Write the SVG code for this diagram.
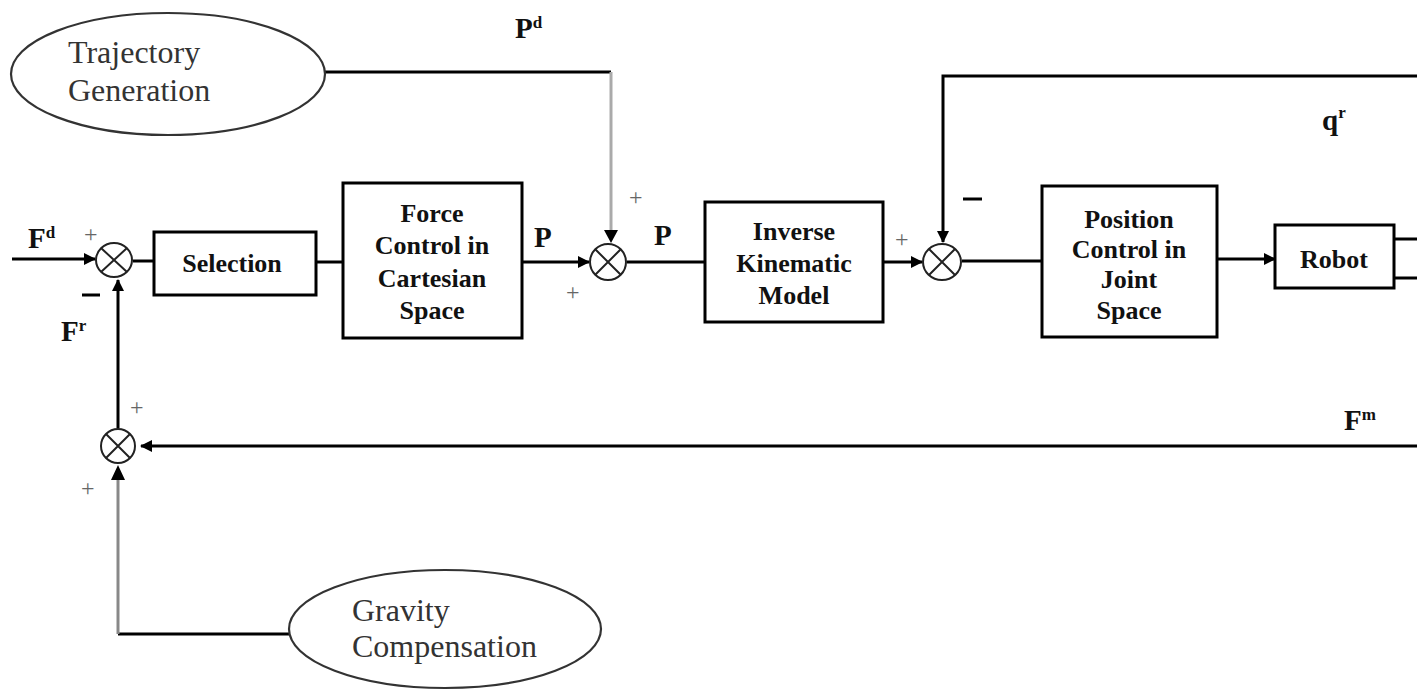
<svg xmlns="http://www.w3.org/2000/svg" width="1417" height="690" viewBox="0 0 1417 690">
<style>
.box{fill:#fff;stroke:#000;stroke-width:3}
.ell{fill:#fff;stroke:#333;stroke-width:2.2}
.sum{fill:#fff;stroke:#222;stroke-width:2}
.ln{fill:none;stroke:#000;stroke-width:3}
.gl{fill:none;stroke:#aaa;stroke-width:3}
.gl2{fill:none;stroke:#888;stroke-width:3}
.mn{stroke:#000;stroke-width:3}
</style>
<defs>
<marker id="ah" markerWidth="12" markerHeight="12" refX="11" refY="6" orient="auto" markerUnits="userSpaceOnUse">
<path d="M0,0 L12,6 L0,12 Z" fill="#000"/>
</marker>
</defs>
<g id="connectors">
<path class="ln" d="M12,259 H95" marker-end="url(#ah)"/>
<path class="ln" d="M133,261 H154"/>
<path class="ln" d="M316,262 H343"/>
<path class="ln" d="M522,262 H589" marker-end="url(#ah)"/>
<path class="ln" d="M627,262 H705"/>
<path class="ln" d="M883,262 H922" marker-end="url(#ah)"/>
<path class="ln" d="M962,261 H1042"/>
<path class="ln" d="M1217,259 H1275" marker-end="url(#ah)"/>
<path class="ln" d="M1394,239 H1417"/>
<path class="ln" d="M1394,278 H1417"/>
<path class="ln" d="M325,72 H611"/>
<path class="gl" d="M611,72 V232"/>
<path d="M604,230 L618,230 L611,243 Z" fill="#000"/>
<path class="ln" d="M1417,76 H943 V242" marker-end="url(#ah)"/>
<path class="ln" d="M1417,446 H141" marker-end="url(#ah)"/>
<path class="ln" d="M118,428 V280" marker-end="url(#ah)"/>
<path class="ln" d="M289,634 H118"/>
<path class="gl2" d="M118,634 V478"/>
<path d="M111,480 L125,480 L118,465 Z" fill="#000"/>
</g>
<g id="trajectory">
<ellipse class="ell" cx="168" cy="74" rx="157" ry="61"/>
<text font-family="'Liberation Serif', serif" font-size="32" fill="#333" x="68" y="63">Trajectory</text>
<text font-family="'Liberation Serif', serif" font-size="32" fill="#333" x="68" y="101">Generation</text>
</g>
<g id="gravity">
<ellipse class="ell" cx="445" cy="629" rx="156" ry="59"/>
<text font-family="'Liberation Serif', serif" font-size="32" fill="#333" x="352" y="621">Gravity</text>
<text font-family="'Liberation Serif', serif" font-size="32" fill="#333" x="352" y="657">Compensation</text>
</g>
<g id="sum1">
<ellipse class="sum" cx="114" cy="260" rx="18" ry="17"/>
<path class="sum" d="M101,248 L127,272 M127,248 L101,272"/>
</g>
<g id="sum2">
<ellipse class="sum" cx="608" cy="262" rx="18" ry="18"/>
<path class="sum" d="M595,249 L621,275 M621,249 L595,275"/>
</g>
<g id="sum3">
<ellipse class="sum" cx="942" cy="262" rx="19" ry="18"/>
<path class="sum" d="M929,249 L955,275 M955,249 L929,275"/>
</g>
<g id="sum4">
<ellipse class="sum" cx="118" cy="446" rx="17" ry="17"/>
<path class="sum" d="M106,434 L130,458 M130,434 L106,458"/>
</g>
<g font-family="'Liberation Serif', serif" font-weight="bold" font-size="26" fill="#111" text-anchor="middle">
<g id="selection">
<rect class="box" x="154" y="232" width="162" height="63"/>
<text x="232" y="272">Selection</text>
</g>
<g id="force">
<rect class="box" x="343" y="183" width="179" height="155"/>
<text x="432" y="222">Force</text>
<text x="432" y="254">Control in</text>
<text x="432" y="287">Cartesian</text>
<text x="432" y="319">Space</text>
</g>
<g id="ik">
<rect class="box" x="705" y="202" width="178" height="120"/>
<text x="794" y="240">Inverse</text>
<text x="794" y="272">Kinematic</text>
<text x="794" y="304">Model</text>
</g>
<g id="position">
<rect class="box" x="1042" y="186" width="175" height="151"/>
<text x="1129" y="228">Position</text>
<text x="1129" y="258">Control in</text>
<text x="1129" y="288">Joint</text>
<text x="1129" y="319">Space</text>
</g>
<g id="robot">
<rect class="box" x="1275" y="225" width="119" height="63"/>
<text x="1334" y="268">Robot</text>
</g>
</g>
<g id="labels">
<g font-family="'Liberation Serif', serif" font-weight="bold" font-size="29" fill="#111">
<text x="28" y="248">F<tspan font-size="17" dy="-10">d</tspan></text>
<text x="61" y="341">F<tspan font-size="17" dy="-10">r</tspan></text>
<text x="515" y="38">P<tspan font-size="17" dy="-10">d</tspan></text>
<text x="534" y="247">P</text>
<text x="654" y="245">P</text>
<text x="1322" y="130">q<tspan font-size="17" dy="-12">r</tspan></text>
<text x="1344" y="430">F<tspan font-size="17" dy="-10">m</tspan></text>
</g>
<g font-family="'Liberation Serif', serif" font-size="24" fill="#666">
<text x="84" y="242">+</text>
<text x="629" y="205">+</text>
<text x="566" y="300">+</text>
<text x="895" y="247">+</text>
<text x="130" y="415">+</text>
<text x="81" y="496">+</text>
</g>
<line class="mn" x1="82" y1="295" x2="100" y2="295"/>
<line class="mn" x1="963" y1="199" x2="982" y2="199"/>
</g>
</svg>
